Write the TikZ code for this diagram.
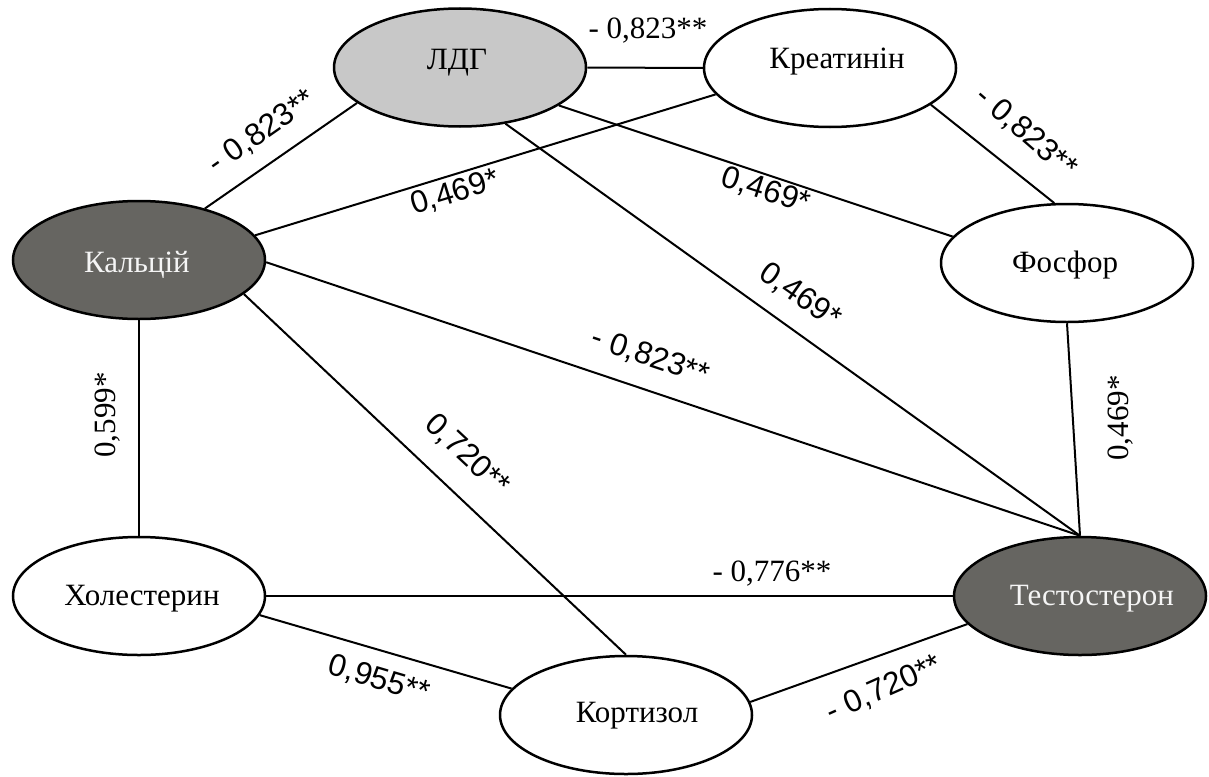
\documentclass[tikz,border=0pt]{standalone}
\usepackage{fontspec}
\setmainfont{Liberation Serif}
\newfontfamily\arialfont{Liberation Sans}
\usetikzlibrary{shapes.geometric}

\definecolor{ldgfill}{RGB}{200,200,200}
\definecolor{darkfill}{RGB}{102,101,97}
\definecolor{lighttext}{RGB}{245,245,245}

\begin{document}
\begin{tikzpicture}[x=1pt,y=-1pt,
  bio/.style={ellipse, draw=black, line width=2.5pt, minimum width=252pt,
              minimum height=118pt, inner sep=0pt, fill=white},
  greybio/.style={bio, fill=ldgfill},
  darkbio/.style={bio, fill=darkfill},
  nametext/.style={font=\fontsize{31}{31}\selectfont, anchor=base, inner sep=0pt},
  lightname/.style={nametext, text=lighttext},
  corr/.style={font=\arialfont\fontsize{31.5}{31.5}\selectfont, inner sep=0pt},
  corrserif/.style={font=\fontsize{31}{31}\selectfont, inner sep=0pt},
  link/.style={line width=2pt}
]
\useasboundingbox (0,0) rectangle (1209,776);

% ellipses
\node[greybio] (ldg) at (460,67.5) {};
\node[bio]     (kre) at (830,68)   {};
\node[darkbio] (kal) at (139,260)  {};
\node[bio]     (fos) at (1067,263) {};
\node[bio]     (hol) at (139,596)  {};
\node[darkbio] (tes) at (1080,596) {};
\node[bio]     (kor) at (626,715)  {};

% connectors
\draw[link] (ldg.east) -- (kre.west);
\draw[link] (ldg.-161.6) -- (kal.38.2);
\draw[link] (ldg.-21) -- (fos.167.3);
\draw[link] (ldg.-51) -- (tes.north);
\draw[link] (kre.193.8) -- (kal.12.4);
\draw[link] (kre.-20.9) -- (fos.102.9);
\draw[link] (kal.-1.5) -- (tes.north);
\draw[link] (kal.-18) -- (kor.north);
\draw[link] (kal.south) -- (hol.north);
\draw[link] (fos.south) -- (tes.north);
\draw[link] (hol.east) -- (tes.west);
\draw[link] (hol.-9.4) -- (kor.167.8);
\draw[link] (kor.6.4) -- (tes.194.2);

% names
\node[nametext]  (ldgname) at (457,70)   {ЛДГ};
\node[nametext]  (krename) at (837,68)   {Креатинін};
\node[lightname] (kalname) at (137,272)  {Кальцій};
\node[nametext]  (fosname) at (1065,272) {Фосфор};
\node[nametext]  (holname) at (142,605)  {Холестерин};
\node[lightname] (tesname) at (1092,605) {Тестостерон};
\node[nametext]  (korname) at (637,722)  {Кортизол};

% correlation coefficients
\node[corrserif] (c1)  at (648,31)  {- 0,823**};
\node[corr, rotate=35]    (c2)  at (262,132) {- 0,823**};
\node[corr, rotate=17]    (c3)  at (455,193) {0,469*};
\node[corr, rotate=-18]   (c4)  at (766,191) {0,469*};
\node[corr, rotate=-35]   (c5)  at (800,296) {0,469*};
\node[corr, rotate=-41]   (c6)  at (1026,133) {- 0,823**};
\node[corr, rotate=-18.6] (c7)  at (650,357) {- 0,823**};
\node[corr, rotate=-43]   (c8)  at (467,455) {0,720**};
\node[corrserif, rotate=90] (c9)  at (108,415) {0,599*};
\node[corrserif, rotate=90] (c10) at (1121,418) {0,469*};
\node[corrserif] (c11) at (772,574) {- 0,776**};
\node[corr, rotate=-16.5] (c12) at (379,680) {0,955**};
\node[corr, rotate=24]    (c13) at (884,689) {- 0,720**};
\end{tikzpicture}
\end{document}
